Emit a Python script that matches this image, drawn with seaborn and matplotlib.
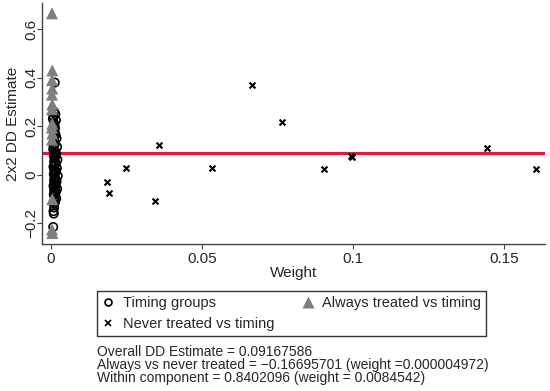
import numpy as np
import pandas as pd
import matplotlib
matplotlib.use("Agg")
import matplotlib.pyplot as plt
import seaborn as sns
from matplotlib.lines import Line2D

# Never treated vs timing
never_w = [0.0666, 0.0763, 0.0358, 0.1444, 0.0994, 0.0996, 0.0247, 0.0534,
           0.0905, 0.1605, 0.0186, 0.0191, 0.0345]
never_est = [0.370, 0.217, 0.123, 0.110, 0.078, 0.072, 0.026, 0.029,
             0.025, 0.022, -0.029, -0.077, -0.107]

# Always treated vs timing
always_w = [0.0003, 0.0004, 0.0003, 0.0004, 0.0003, 0.0004, 0.0003, 0.0004,
            0.0003, 0.0004, 0.0003, 0.0004, 0.0003, 0.0004]
always_est = [0.665, 0.430, 0.390, 0.355, 0.330, 0.290, 0.270, 0.210,
              0.195, 0.170, 0.145, -0.100, -0.225, -0.240]

# Timing groups
timing_w = [0.0012, 0.0010, 0.0014, 0.0008, 0.0016, 0.0011, 0.0013, 0.0009,
            0.0015, 0.0018, 0.0010, 0.0012, 0.0020, 0.0007, 0.0014, 0.0011,
            0.0017, 0.0009, 0.0013, 0.0021, 0.0010, 0.0015, 0.0012, 0.0008,
            0.0019, 0.0011, 0.0016, 0.0013, 0.0009, 0.0022, 0.0012, 0.0014,
            0.0010, 0.0018, 0.0011, 0.0015, 0.0008, 0.0013, 0.0020, 0.0010,
            0.0016, 0.0012, 0.0009, 0.0014, 0.0017, 0.0011, 0.0013, 0.0010,
            0.0015, 0.0012, 0.0009, 0.0011, 0.0010, 0.0008, 0.0009, 0.0007,
            0.0006, 0.0008]
timing_est = [0.380, 0.260, 0.250, 0.240, 0.225, 0.210, 0.190, 0.175,
              0.165, 0.150, 0.140, 0.125, 0.115, 0.105, 0.095, 0.090,
              0.085, 0.078, 0.070, 0.062, 0.055, 0.048, 0.040, 0.033,
              0.027, 0.020, 0.014, 0.008, 0.002, -0.005, -0.010, -0.016,
              -0.022, -0.028, -0.034, -0.040, -0.046, -0.052, -0.058, -0.064,
              -0.070, -0.076, -0.082, -0.090, -0.098, -0.105, -0.112, -0.120,
              0.045, 0.010, 0.160, 0.200, -0.135, -0.150, -0.160, -0.215,
              0.230, 0.120]

overall = 0.09167586
notes = ["Overall DD Estimate = 0.09167586",
         "Always vs never treated = \u22120.16695701 (weight =0.000004972)",
         "Within component = 0.8402096 (weight = 0.0084542)"]

sns.set_style("white")
plt.rcParams['font.family'] = ['Liberation Sans', 'DejaVu Sans']

fig = plt.figure(figsize=(5.5, 3.91), dpi=100)
ax = fig.add_axes([0.0764, 0.376, 0.915, 0.616])

sns.scatterplot(x=timing_w, y=timing_est, ax=ax, marker='o', s=36,
                facecolor='none', edgecolor='black', linewidth=1.2, zorder=3)
sns.scatterplot(x=always_w, y=always_est, ax=ax, marker='^', s=75,
                color='#7f7f7f', edgecolor='none', zorder=4)
sns.scatterplot(x=never_w, y=never_est, ax=ax, marker='x', s=18,
                color='black', linewidth=1.5, zorder=3)
ax.axhline(overall, color='#e5173f', lw=2.2, zorder=2)

ax.set_xlim(-0.003, 0.1636)
ax.set_ylim(-0.285, 0.707)
ax.set_xticks([0, 0.05, 0.1, 0.15])
ax.set_xticklabels(['0', '0.05', '0.1', '0.15'])
ax.set_yticks([-0.2, 0, 0.2, 0.4, 0.6])
ax.set_yticklabels(['\u22120.2', '0', '0.2', '0.4', '0.6'], rotation=90, va='center')
ax.tick_params(axis='both', labelsize=11, length=3.5, width=0.8, color='#444444',
               direction='out', left=True, bottom=True)
ax.tick_params(axis='y', pad=-1)
ax.tick_params(axis='x', pad=2)
for side in ['top', 'right']:
    ax.spines[side].set_visible(False)
for side in ['left', 'bottom']:
    ax.spines[side].set_color('#444444')
    ax.spines[side].set_linewidth(1.0)
ax.set_xlabel('Weight', fontsize=11, labelpad=0)
ax.set_ylabel('2x2 DD Estimate', fontsize=11)
ax.yaxis.set_label_coords(-0.044, 0.5)

handles = [
    Line2D([], [], marker='o', ls='none', mfc='none', mec='black', ms=5, mew=1.2),
    Line2D([], [], marker='x', ls='none', color='black', ms=4, mew=1.2),
    Line2D([], [], marker='^', ls='none', color='#7f7f7f', ms=8, mec='none'),
]
labels = ['Timing groups', 'Never treated vs timing', 'Always treated vs timing']
leg = fig.legend(handles, labels, ncol=2, loc='upper left',
                 bbox_to_anchor=(97 / 550, 1 - 291 / 391), fontsize=10.5,
                 frameon=True, fancybox=False, edgecolor='black',
                 handlelength=0.8, handletextpad=0.6, columnspacing=1.9,
                 borderpad=0.35, labelspacing=0.45, borderaxespad=0)
leg.get_frame().set_linewidth(1.0)

for i, t in enumerate(notes):
    fig.text(97 / 550, 1 - (352 + 13 * i) / 391, t, fontsize=10,
             va='center', ha='left')

fig.savefig('out.png', dpi=100)
